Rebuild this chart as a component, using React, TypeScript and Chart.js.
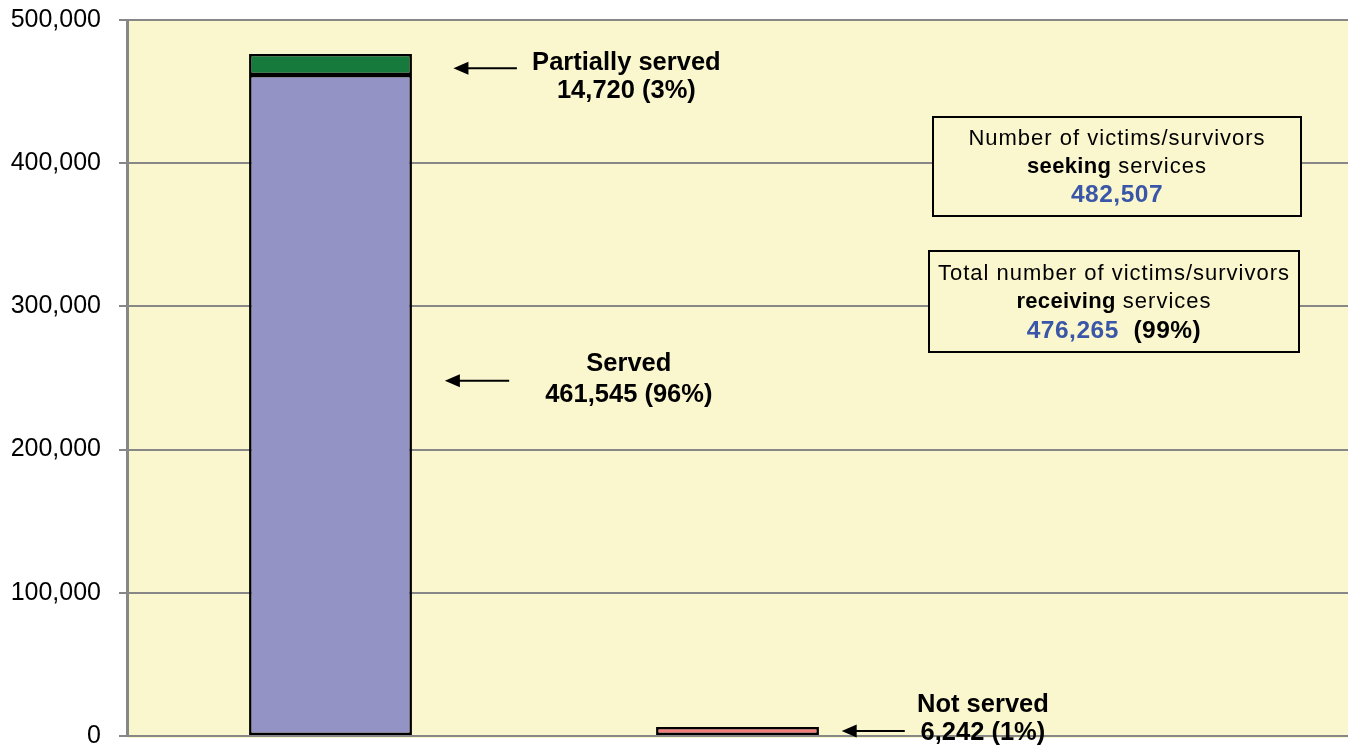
import React, { useEffect, useRef } from "react";
import { Chart, registerables } from "chart.js";

Chart.register(...registerables);

// ---- Data ----
const categories = ["Received services", "Not served", ""];
const servedValues = [461545, null, null];
const partialValues = [14720, null, null];
const notServedValues = [null, 6242, null];
const yTickValues = [0, 100000, 200000, 300000, 400000, 500000];
const seekingTotal = 482507;
const receivingTotal = 476265;
const receivingPct = "(99%)";

// callout labels: [line1, line2]
const partialLabel = ["Partially served", "14,720 (3%)"];
const servedLabel = ["Served", "461,545 (96%)"];
const notServedLabel = ["Not served", "6,242 (1%)"];

const FONT = "'Liberation Sans', Arial, Helvetica, sans-serif";
const BG = "#FAF6CD";
const GRID = "#878787";

function fmt(n: number) {
  return n.toLocaleString("en-US");
}

function drawArrow(ctx: CanvasRenderingContext2D, tailX: number, tipX: number, y: number) {
  ctx.save();
  ctx.strokeStyle = "#000";
  ctx.fillStyle = "#000";
  ctx.lineWidth = 2;
  const head = 15;
  const dir = tipX < tailX ? 1 : -1;
  ctx.beginPath();
  ctx.moveTo(tailX, y);
  ctx.lineTo(tipX + dir * head * 0.8, y);
  ctx.stroke();
  ctx.beginPath();
  ctx.moveTo(tipX, y);
  ctx.lineTo(tipX + dir * head, y - 6.5);
  ctx.lineTo(tipX + dir * head, y + 6.5);
  ctx.closePath();
  ctx.fill();
  ctx.restore();
}

const bgPlugin = {
  id: "plotBg",
  beforeDraw(chart: any) {
    const { ctx, chartArea: a } = chart;
    ctx.save();
    ctx.fillStyle = BG;
    ctx.fillRect(a.left, a.top, a.right - a.left, a.bottom - a.top + 2);
    ctx.restore();
  },
};

const annotPlugin = {
  id: "annot",
  afterDatasetsDraw(chart: any) {
    const { ctx } = chart;
    const xs = chart.scales.x;
    const ys = chart.scales.y;
    const catW = xs.getPixelForValue(1) - xs.getPixelForValue(0);
    const cx = (cat: number) => xs.getPixelForValue(0) + cat * catW;
    const py = (v: number) => ys.getPixelForValue(v);

    const callout = (lines: string[], arrowTail: number, arrowTip: number, arrowY: number, textX: number, y1: number, y2: number) => {
      drawArrow(ctx, cx(arrowTail), cx(arrowTip), py(arrowY));
      ctx.save();
      ctx.fillStyle = "#000";
      ctx.font = `bold 25.5px ${FONT}`;
      ctx.textAlign = "center";
      ctx.textBaseline = "middle";
      ctx.fillText(lines[0], cx(textX), py(y1));
      ctx.fillText(lines[1], cx(textX), py(y2));
      ctx.restore();
    };

    callout(partialLabel, 0.458, 0.302, 466300, 0.727, 469900, 450400);
    callout(servedLabel, 0.439, 0.281, 248100, 0.733, 259800, 238100);
    callout(notServedLabel, 1.411, 1.256, 3500, 1.603, 22000, 2100);

    // info boxes
    const box = (x1: number, y1: number, x2: number, y2: number) => {
      ctx.save();
      ctx.fillStyle = BG;
      ctx.fillRect(x1, y1, x2 - x1, y2 - y1);
      ctx.strokeStyle = "#000";
      ctx.lineWidth = 2;
      ctx.strokeRect(x1, y1, x2 - x1, y2 - y1);
      ctx.restore();
    };
    type Part = { t: string; bold: boolean; color: string; size: number; sp: number };
    const setFont = (p: Part) => {
      ctx.font = `${p.bold ? "bold " : ""}${p.size}px ${FONT}`;
      (ctx as any).letterSpacing = `${p.sp}px`;
    };
    const mixedLine = (parts: Part[], center: number, y: number) => {
      ctx.save();
      ctx.textBaseline = "middle";
      ctx.textAlign = "left";
      let total = 0;
      const widths = parts.map((p) => {
        setFont(p);
        const w = ctx.measureText(p.t).width;
        total += w;
        return w;
      });
      let x = center - total / 2;
      parts.forEach((p, i) => {
        setFont(p);
        ctx.fillStyle = p.color;
        ctx.fillText(p.t, x, y);
        x += widths[i];
      });
      (ctx as any).letterSpacing = "0px";
      ctx.restore();
    };
    const norm = (t: string): Part => ({ t, bold: false, color: "#000", size: 22, sp: 1 });
    const boldp = (t: string): Part => ({ t, bold: true, color: "#000", size: 22, sp: 0.3 });
    const num = (t: string, color: string): Part => ({ t, bold: true, color, size: 24.5, sp: 0.5 });

    box(933, 117, 1301, 216);
    const c1 = (933 + 1301) / 2;
    mixedLine([norm("Number of victims/survivors")], c1, 139);
    mixedLine([boldp("seeking"), norm(" services")], c1, 167);
    mixedLine([num(fmt(seekingTotal), "#3A56A8")], c1, 195);

    box(929, 251, 1299, 352);
    const c2 = (929 + 1299) / 2;
    mixedLine([norm("Total number of victims/survivors")], c2, 274);
    mixedLine([boldp("receiving"), norm(" services")], c2, 302);
    mixedLine([num(fmt(receivingTotal), "#3A56A8"), num("  " + receivingPct, "#000")], c2, 331);
  },
};

export default function App() {
  const ref = useRef<HTMLCanvasElement | null>(null);

  useEffect(() => {
    if (!ref.current) return;
    const chart = new Chart(ref.current, {
      type: "bar",
      data: {
        labels: categories,
        datasets: [
          {
            label: "Served",
            data: servedValues,
            backgroundColor: "#9393C6",
            borderColor: "#000",
            borderWidth: 2.5,
            borderSkipped: false,
          },
          {
            label: "Partially served",
            data: partialValues,
            backgroundColor: "#157A3C",
            borderColor: "#000",
            borderWidth: 2.5,
            borderSkipped: false,
          },
          {
            label: "Not served",
            data: notServedValues,
            backgroundColor: "#F47C7C",
            borderColor: "#000",
            borderWidth: 2.5,
            borderSkipped: false,
          },
        ] as any,
      },
      options: {
        animation: false,
        responsive: true,
        maintainAspectRatio: false,
        datasets: { bar: { categoryPercentage: 1, barPercentage: 0.4 } } as any,
        layout: { padding: { top: 20, right: 0, bottom: 11, left: 0 } },
        plugins: {
          legend: { display: false },
          tooltip: { enabled: false },
          title: { display: false },
        },
        scales: {
          x: {
            stacked: true,
            display: false,
          },
          y: {
            stacked: true,
            min: 0,
            max: 500000,
            afterFit: (scale: any) => {
              scale.width = 127;
              scale.paddingTop = 0;
              scale.paddingBottom = 0;
            },
            afterBuildTicks: (scale: any) => {
              scale.ticks = yTickValues.map((v) => ({ value: v }));
            },
            ticks: {
              padding: 18,
              color: "#000",
              font: { family: FONT, size: 25 },
              callback: (v: any) => fmt(Number(v)),
            },
            grid: {
              color: GRID,
              lineWidth: 2,
              tickLength: 8,
              drawTicks: true,
            },
            border: { color: GRID, width: 3 },
          },
        },
      },
      plugins: [bgPlugin, annotPlugin],
    });
    return () => chart.destroy();
  }, []);

  return (
    <div style={{ position: "fixed", left: 0, top: 0, width: 1348, height: 747, background: "#fff" }}>
      <canvas ref={ref} />
    </div>
  );
}
